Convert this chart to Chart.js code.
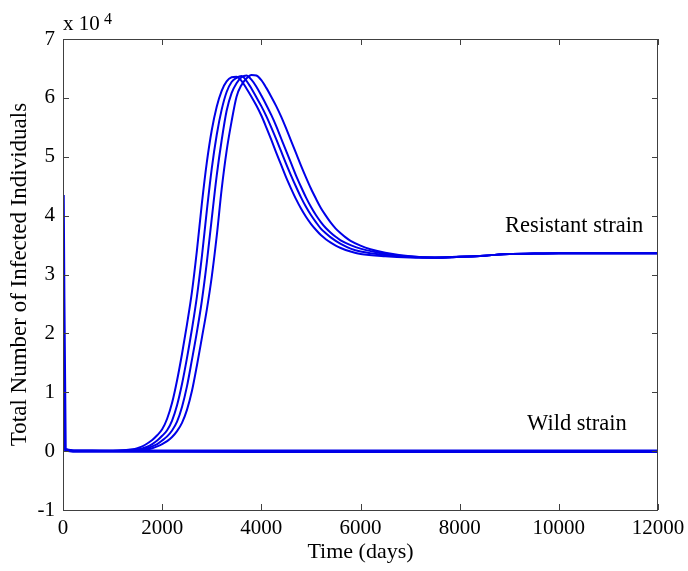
<!DOCTYPE html>
<html><head><meta charset="utf-8">
<script src="https://cdn.jsdelivr.net/npm/chart.js@4"></script>
<style>html,body{margin:0;padding:0;background:#fff;}</style>
</head><body>
<canvas id="c" width="688" height="571"></canvas>
<script>
// ---- data (values in units of 10^4 individuals) ----
const xTicks = [0, 2000, 4000, 6000, 8000, 10000, 12000];
const yTicks = [-1, 0, 1, 2, 3, 4, 5, 6, 7];

const wildStrain = [[0,4.35],[40,0.03],[200,0.004],[1000,0],[12000,0]];

const resistant1 = [[0,0.6],[50,0.02],[300,0.002],[1000,0.005],[1200,0.012],[1400,0.03],[1500,0.05],[1600,0.08],[1700,0.13],[1800,0.19],[1900,0.27],[2000,0.37],[2100,0.55],[2200,0.82],[2300,1.2],[2400,1.65],[2500,2.15],[2600,2.7],[2700,3.4],[2800,4.2],[2900,4.9],[3000,5.45],[3100,5.85],[3200,6.12],[3300,6.28],[3400,6.35],[3500,6.36],[3600,6.29],[3700,6.16],[3800,6.02],[3900,5.87],[4000,5.7],[4100,5.5],[4200,5.29],[4300,5.07],[4400,4.86],[4500,4.65],[4600,4.46],[4700,4.28],[4800,4.12],[4900,3.98],[5000,3.86],[5100,3.76],[5200,3.67],[5300,3.6],[5400,3.54],[5500,3.49],[5600,3.45],[5800,3.39],[6000,3.35],[6500,3.31],[7000,3.29],[7500,3.285],[8000,3.3],[8500,3.32],[9000,3.35],[9500,3.355],[10000,3.36],[11000,3.36],[12000,3.36]];

const resistant2 = [[0,0.6],[50,0.02],[300,0.002],[1000,0.004],[1400,0.018],[1500,0.028],[1600,0.047],[1700,0.075],[1800,0.12],[1900,0.18],[2000,0.26],[2100,0.355],[2200,0.52],[2300,0.78],[2400,1.14],[2500,1.58],[2600,2.07],[2700,2.62],[2800,3.3],[2900,4.08],[3000,4.8],[3100,5.37],[3200,5.8],[3300,6.1],[3400,6.27],[3500,6.34],[3600,6.37],[3700,6.29],[3800,6.16],[3900,6.01],[4000,5.86],[4100,5.69],[4200,5.5],[4300,5.3],[4400,5.09],[4500,4.88],[4600,4.68],[4700,4.49],[4800,4.31],[4900,4.15],[5000,4.01],[5100,3.89],[5200,3.78],[5300,3.7],[5400,3.63],[5500,3.57],[5600,3.52],[5800,3.44],[6000,3.39],[6500,3.33],[7000,3.3],[7500,3.285],[8000,3.3],[8500,3.32],[9000,3.35],[9500,3.355],[10000,3.36],[11000,3.36],[12000,3.36]];

const resistant3 = [[0,0.6],[50,0.02],[300,0.002],[1000,0.003],[1500,0.02],[1600,0.03],[1700,0.05],[1800,0.08],[1900,0.12],[2000,0.18],[2100,0.25],[2200,0.35],[2300,0.5],[2400,0.75],[2500,1.1],[2600,1.55],[2700,2.02],[2800,2.55],[2900,3.2],[3000,3.95],[3100,4.68],[3200,5.28],[3300,5.78],[3400,6.08],[3500,6.25],[3600,6.35],[3700,6.38],[3800,6.31],[3900,6.19],[4000,6.04],[4100,5.88],[4200,5.71],[4300,5.52],[4400,5.31],[4500,5.1],[4600,4.89],[4700,4.68],[4800,4.49],[4900,4.31],[5000,4.15],[5100,4.01],[5200,3.89],[5300,3.79],[5400,3.71],[5500,3.64],[5600,3.58],[5800,3.5],[6000,3.44],[6500,3.35],[7000,3.305],[7500,3.29],[8000,3.3],[8500,3.32],[9000,3.35],[9500,3.355],[10000,3.36],[11000,3.36],[12000,3.36]];

const resistant4 = [[0,0.6],[50,0.02],[300,0.002],[1000,0.002],[1600,0.02],[1700,0.03],[1800,0.05],[1900,0.08],[2000,0.12],[2100,0.17],[2200,0.24],[2300,0.34],[2400,0.48],[2500,0.7],[2600,1.02],[2700,1.45],[2800,1.92],[2900,2.4],[3000,2.96],[3100,3.65],[3200,4.45],[3300,5.1],[3400,5.6],[3500,6.02],[3600,6.22],[3700,6.33],[3800,6.39],[3900,6.38],[4000,6.3],[4100,6.17],[4200,6.02],[4300,5.86],[4400,5.68],[4500,5.48],[4600,5.27],[4700,5.06],[4800,4.85],[4900,4.65],[5000,4.46],[5100,4.29],[5200,4.13],[5300,4.0],[5400,3.88],[5500,3.78],[5600,3.7],[5700,3.63],[5800,3.57],[6000,3.49],[6200,3.43],[6500,3.37],[7000,3.31],[7500,3.29],[8000,3.3],[8500,3.32],[9000,3.35],[9500,3.355],[10000,3.36],[11000,3.36],[12000,3.36]];

// ---- styles ----
const lineColor = '#0000e8';
const axisColor = '#404040';
const serif = "'Liberation Serif', 'Times New Roman', serif";

const toPts = arr => arr.map(p => ({x: p[0], y: p[1]}));
const mkSet = (label, arr, w) => ({
  label, data: toPts(arr), borderColor: lineColor, backgroundColor: lineColor,
  borderWidth: w, pointRadius: 0, fill: false, cubicInterpolationMode: 'monotone'
});

const annotations = [
  {text: 'Resistant strain', x: 8915, y: 3.72},
  {text: 'Wild strain', x: 9360, y: 0.36}
];

const framePlugin = {
  id: 'frame',
  afterDatasetsDraw(chart) {
    const {ctx, chartArea: a, scales: {x, y}} = chart;
    ctx.save();
    ctx.strokeStyle = axisColor;
    ctx.lineWidth = 1;
    ctx.strokeRect(a.left + 0.5, a.top + 0.5, a.right - a.left - 1, a.bottom - a.top);
    ctx.beginPath();
    xTicks.forEach(v => {
      const px = Math.round(x.getPixelForValue(v)) + 0.5;
      ctx.moveTo(px, a.bottom); ctx.lineTo(px, a.bottom - 6);
      ctx.moveTo(px, a.top); ctx.lineTo(px, a.top + 6);
    });
    yTicks.forEach(v => {
      const py = Math.round(y.getPixelForValue(v)) + 0.5;
      ctx.moveTo(a.left, py); ctx.lineTo(a.left + 6, py);
      ctx.moveTo(a.right, py); ctx.lineTo(a.right - 6, py);
    });
    ctx.stroke();
    ctx.fillStyle = '#000';
    ctx.textBaseline = 'alphabetic';
    ctx.textAlign = 'left';
    ctx.font = '22.5px ' + serif;
    annotations.forEach(t => ctx.fillText(t.text, x.getPixelForValue(t.x), y.getPixelForValue(t.y)));
    // exponent label
    ctx.font = '21px ' + serif;
    ctx.fillText('x 10', a.left, a.top - 9);
    ctx.font = '16px ' + serif;
    ctx.fillText('4', a.left + 41, a.top - 15);
    ctx.restore();
  }
};

new Chart(document.getElementById('c'), {
  type: 'line',
  data: {
    datasets: [
      mkSet('Resistant strain 1', resistant1, 2),
      mkSet('Resistant strain 2', resistant2, 2),
      mkSet('Resistant strain 3', resistant3, 2),
      mkSet('Resistant strain 4', resistant4, 2),
      mkSet('Wild strain', wildStrain, 3.5)
    ]
  },
  options: {
    responsive: false,
    animation: false,
    events: [],
    layout: {padding: {left: 6, right: 30, top: 39, bottom: 6}},
    plugins: {legend: {display: false}, tooltip: {enabled: false}},
    scales: {
      x: {
        type: 'linear', min: 0, max: 12000,
        afterFit: s => { s.height = 55; s.paddingLeft = 0; s.paddingRight = 0; },
        afterBuildTicks: s => { s.ticks = xTicks.map(v => ({value: v})); },
        grid: {display: false, drawTicks: false},
        border: {display: false},
        ticks: {autoSkip: false, maxRotation: 0, padding: 6, color: '#000',
                font: {family: serif, size: 21}, callback: v => String(v)},
        title: {display: true, text: 'Time (days)', color: '#000',
                font: {family: serif, size: 22}, padding: {top: 0, bottom: 0}}
      },
      y: {
        type: 'linear', min: -1, max: 7,
        afterFit: s => { s.width = 57; s.paddingTop = 0; s.paddingBottom = 0; },
        afterBuildTicks: s => { s.ticks = yTicks.map(v => ({value: v})); },
        grid: {display: false, drawTicks: false},
        border: {display: false},
        ticks: {autoSkip: false, padding: 8, color: '#000',
                font: {family: serif, size: 21}, callback: v => String(v)},
        title: {display: true, text: 'Total Number of Infected Individuals', color: '#000',
                font: {family: serif, size: 23}, padding: {top: 0, bottom: 0}}
      }
    }
  },
  plugins: [framePlugin]
});
</script>
</body></html>
